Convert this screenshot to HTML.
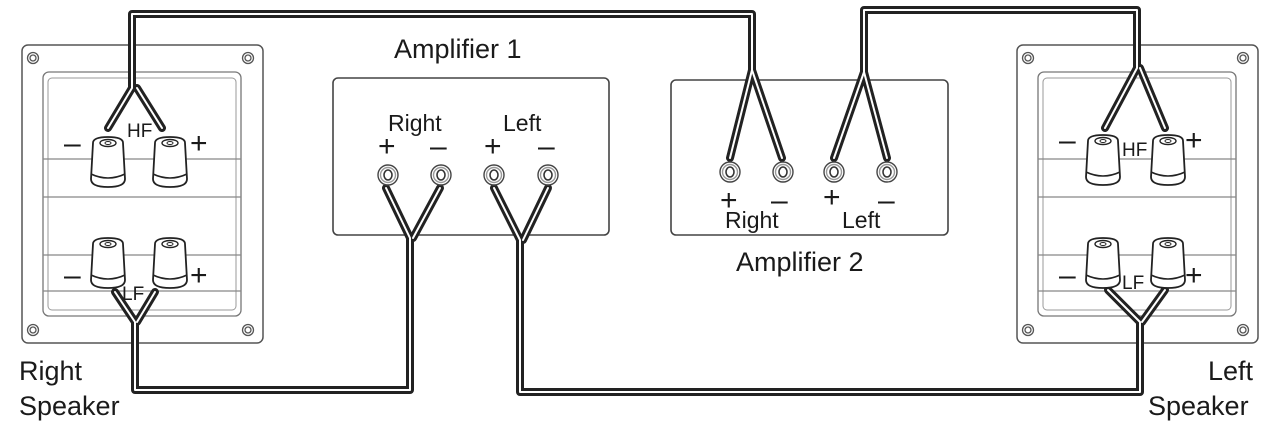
<!DOCTYPE html>
<html><head><meta charset="utf-8"><style>
html,body{margin:0;padding:0;background:#fff}
svg{display:block}
text{font-family:"Liberation Sans",sans-serif;fill:#1a1a1a}
</style></head><body>
<svg width="1273" height="429" viewBox="0 0 1273 429" xmlns="http://www.w3.org/2000/svg">
<defs>
<g id="post">
  <path d="M-15,-24 Q-15,-30 0,-30 Q15,-30 15,-24 L17,12 Q17,20 0,20 Q-17,20 -17,12 Z" fill="#fff" stroke="#222" stroke-width="1.8"/>
  <path d="M-17,7 Q0,15 17,7" fill="none" stroke="#222" stroke-width="1.6"/>
  <ellipse cx="0" cy="-24" rx="8" ry="3.5" fill="#fff" stroke="#222" stroke-width="1.4"/>
  <ellipse cx="0" cy="-24" rx="3" ry="1.5" fill="#fff" stroke="#222" stroke-width="1"/>
</g>
<g id="screw">
  <circle r="5.5" fill="#fff" stroke="#555" stroke-width="1.3"/>
  <circle r="3" fill="#fff" stroke="#555" stroke-width="1.3"/>
</g>
<g id="spk">
  <rect x="0" y="0" width="241" height="298" rx="6" fill="#fff" stroke="#555" stroke-width="1.5"/>
  <rect x="21" y="27" width="198" height="244" rx="6" fill="none" stroke="#777" stroke-width="1.3"/>
  <rect x="26" y="33" width="188" height="232" rx="4" fill="none" stroke="#999" stroke-width="1"/>
  <line x1="21" y1="114" x2="219" y2="114" stroke="#888" stroke-width="1.2"/>
  <line x1="21" y1="152" x2="219" y2="152" stroke="#888" stroke-width="1.2"/>
  <line x1="21" y1="210" x2="219" y2="210" stroke="#888" stroke-width="1.2"/>
  <line x1="21" y1="246" x2="219" y2="246" stroke="#888" stroke-width="1.2"/>
  <use href="#screw" x="11" y="13"/><use href="#screw" x="226" y="13"/>
  <use href="#screw" x="11" y="285"/><use href="#screw" x="226" y="285"/>
</g>
</defs>

<use href="#spk" x="22" y="45"/>
<use href="#spk" x="1017" y="45"/>

<rect x="333" y="78" width="276" height="157" rx="5" fill="#fff" stroke="#444" stroke-width="1.6"/>
<rect x="671" y="80" width="277" height="155" rx="5" fill="#fff" stroke="#444" stroke-width="1.6"/>

<g fill="none" stroke-linejoin="round" stroke-linecap="round">
 <g stroke="#222" stroke-width="8">
  <path d="M108,128 L132,88 L132,14 L752,14 L752,70 L730,158"/>
  <path d="M162,128 L137,88"/>
  <path d="M752,70 L782,158"/>
  <path d="M1105,128 L1137,68 L1137,10 L864,10 L864,72 L834,158"/>
  <path d="M1165,128 L1140,68"/>
  <path d="M864,72 L887,158"/>
  <path d="M386,188 L410,238 L410,390 L135,390 L135,322 L115,292"/>
  <path d="M440,188 L413,238"/>
  <path d="M155,292 L137,322"/>
  <path d="M494,188 L520,240 L520,392 L1140,392 L1140,322 L1108,290"/>
  <path d="M548,188 L523,240"/>
  <path d="M1165,290 L1142,322"/>
 </g>
 <g stroke="#fff" stroke-width="2">
  <path d="M108,128 L132,88 L132,14 L752,14 L752,70 L730,158"/>
  <path d="M162,128 L137,88"/>
  <path d="M752,70 L782,158"/>
  <path d="M1105,128 L1137,68 L1137,10 L864,10 L864,72 L834,158"/>
  <path d="M1165,128 L1140,68"/>
  <path d="M864,72 L887,158"/>
  <path d="M386,188 L410,238 L410,390 L135,390 L135,322 L115,292"/>
  <path d="M440,188 L413,238"/>
  <path d="M155,292 L137,322"/>
  <path d="M494,188 L520,240 L520,392 L1140,392 L1140,322 L1108,290"/>
  <path d="M548,188 L523,240"/>
  <path d="M1165,290 L1142,322"/>
 </g>
</g>

<use href="#post" x="108" y="167"/>
<use href="#post" x="170" y="167"/>
<use href="#post" x="108" y="268"/>
<use href="#post" x="170" y="268"/>
<use href="#post" x="1103" y="165"/>
<use href="#post" x="1168" y="165"/>
<use href="#post" x="1103" y="268"/>
<use href="#post" x="1168" y="268"/>

<g fill="#fff">
 <g stroke="#444" stroke-width="1.4">
  <circle cx="388" cy="175" r="10"/><circle cx="441" cy="175" r="10"/>
  <circle cx="494" cy="175" r="10"/><circle cx="548" cy="175" r="10"/>
  <circle cx="730" cy="172" r="10"/><circle cx="783" cy="172" r="10"/>
  <circle cx="834" cy="172" r="10"/><circle cx="887" cy="172" r="10"/>
 </g>
 <g stroke="#999" stroke-width="1.4" fill="none">
  <circle cx="388" cy="175" r="7.5"/><circle cx="441" cy="175" r="7.5"/>
  <circle cx="494" cy="175" r="7.5"/><circle cx="548" cy="175" r="7.5"/>
  <circle cx="730" cy="172" r="7.5"/><circle cx="783" cy="172" r="7.5"/>
  <circle cx="834" cy="172" r="7.5"/><circle cx="887" cy="172" r="7.5"/>
 </g>
 <g stroke="#333" stroke-width="1.6">
  <ellipse cx="388" cy="175" rx="4" ry="5"/><ellipse cx="441" cy="175" rx="4" ry="5"/>
  <ellipse cx="494" cy="175" rx="4" ry="5"/><ellipse cx="548" cy="175" rx="4" ry="5"/>
  <ellipse cx="730" cy="172" rx="4" ry="5"/><ellipse cx="783" cy="172" rx="4" ry="5"/>
  <ellipse cx="834" cy="172" rx="4" ry="5"/><ellipse cx="887" cy="172" rx="4" ry="5"/>
 </g>
</g>

<g font-size="30">
 <text x="64" y="153">–</text><text x="190" y="153">+</text>
 <text x="64" y="285">–</text><text x="190" y="285">+</text>
 <text x="1059" y="150">–</text><text x="1185" y="150">+</text>
 <text x="1059" y="285">–</text><text x="1185" y="285">+</text>
 <text x="378" y="156">+</text><text x="430" y="156">–</text>
 <text x="484" y="156">+</text><text x="538" y="156">–</text>
 <text x="720" y="210">+</text><text x="771" y="210">–</text>
 <text x="823" y="207">+</text><text x="878" y="210">–</text>
</g>
<g font-size="19">
 <text x="127" y="137">HF</text><text x="122" y="300">LF</text>
 <text x="1122" y="156">HF</text><text x="1122" y="289">LF</text>
</g>
<g font-size="23">
 <text x="388" y="131">Right</text><text x="503" y="131">Left</text>
 <text x="725" y="228">Right</text><text x="842" y="228">Left</text>
</g>
<g font-size="27">
 <text x="394" y="58">Amplifier 1</text>
 <text x="736" y="271">Amplifier 2</text>
 <text x="19" y="380">Right</text><text x="19" y="415">Speaker</text>
 <text x="1208" y="380">Left</text><text x="1148" y="415">Speaker</text>
</g>
</svg>
</body></html>
